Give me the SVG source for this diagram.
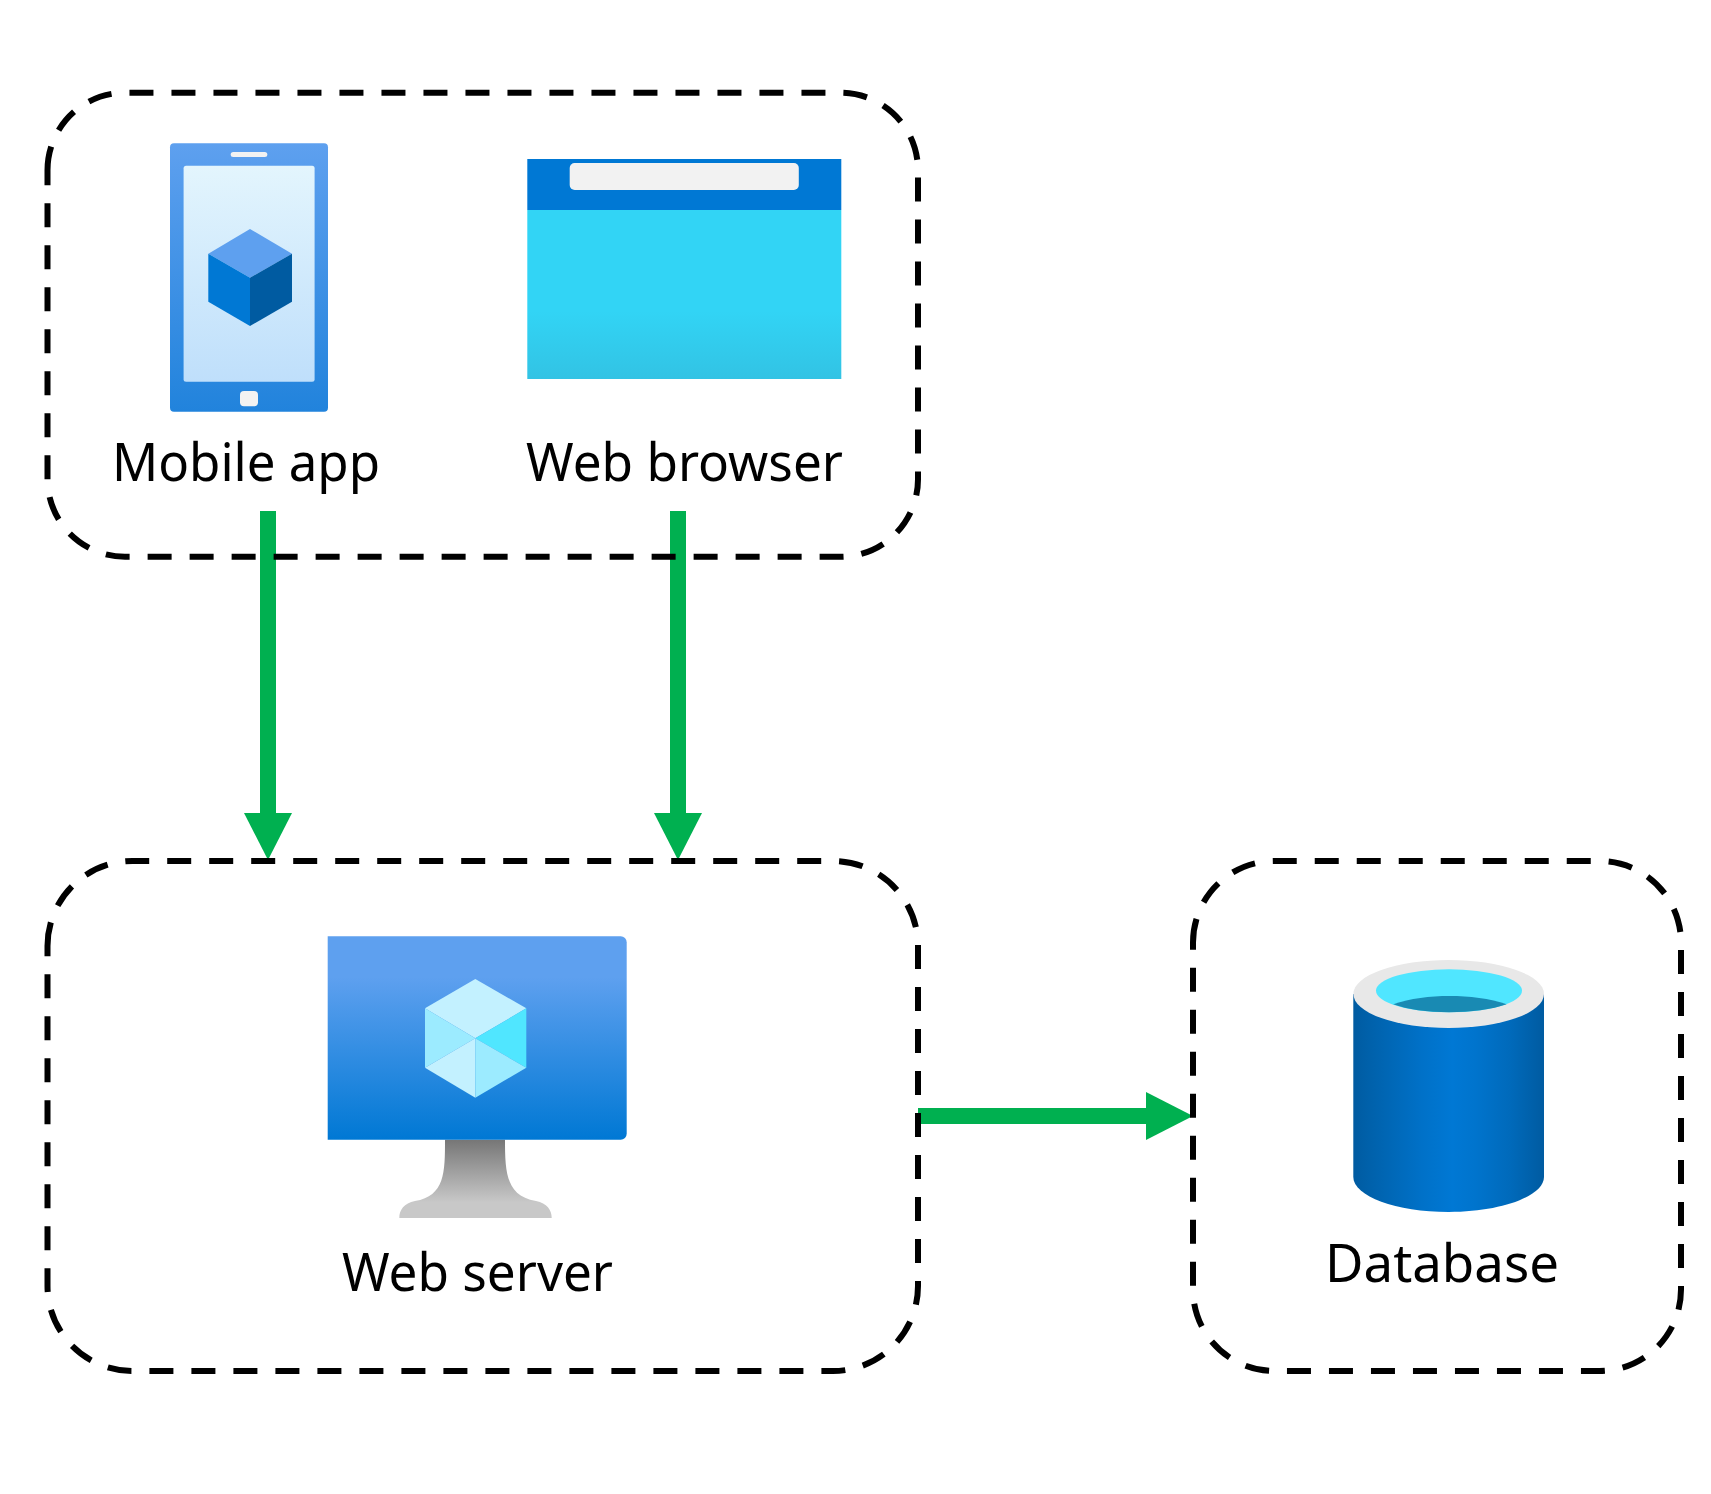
<svg xmlns="http://www.w3.org/2000/svg" width="1711" height="1494" viewBox="0 0 1711 1494">
<style>
.box{fill:none;stroke:#000;stroke-width:6;stroke-dasharray:24 18}
.lbl{font-family:"Noto Sans","Open Sans",sans-serif;font-size:52px;fill:#000}
.conn{stroke:#00B050;stroke-width:16;fill:none}
.head{fill:#00B050}
</style>
<defs>
<linearGradient id="gPhone" x1="0" y1="0" x2="0" y2="1"><stop offset="0" stop-color="#5EA0EF"/><stop offset="1" stop-color="#2183DC"/></linearGradient>
<linearGradient id="gScreen" x1="0" y1="0" x2="0" y2="1"><stop offset="0" stop-color="#E3F5FD"/><stop offset="1" stop-color="#BFDFFB"/></linearGradient>
<linearGradient id="gBody" x1="0" y1="0" x2="0" y2="1"><stop offset="0" stop-color="#32D4F5"/><stop offset="0.6" stop-color="#32D4F5"/><stop offset="1" stop-color="#32C3E4"/></linearGradient>
<linearGradient id="gMon" x1="0" y1="0" x2="0" y2="1"><stop offset="0" stop-color="#5EA0EF"/><stop offset="0.2" stop-color="#5EA0EF"/><stop offset="1" stop-color="#0078D4"/></linearGradient>
<linearGradient id="gStand" x1="0" y1="0" x2="0" y2="1"><stop offset="0" stop-color="#767676"/><stop offset="0.8" stop-color="#C8C8C8"/><stop offset="1" stop-color="#C8C8C8"/></linearGradient>
<linearGradient id="gCyl" x1="0" y1="0" x2="1" y2="0"><stop offset="0" stop-color="#005BA1"/><stop offset="0.07" stop-color="#0060A9"/><stop offset="0.36" stop-color="#0071C8"/><stop offset="0.52" stop-color="#0078D4"/><stop offset="0.64" stop-color="#0074CD"/><stop offset="0.82" stop-color="#006ABB"/><stop offset="1" stop-color="#005BA1"/></linearGradient>
</defs>
<rect width="1711" height="1494" fill="#fff"/>
<g id="connectors">
<path class="conn" d="M268 511V813"/><polygon class="head" points="244,813 292,813 268,860"/>
<path class="conn" d="M678 511V813"/><polygon class="head" points="654,813 702,813 678,860"/>
<path class="conn" d="M918 1116H1146"/><polygon class="head" points="1146,1092 1146,1140 1193,1116"/>
</g>
<g id="client-group">
<path class="box" d="M47.500 170.200A77.500 77.500 0 0 1 125 92.700H840.500A77.500 77.500 0 0 1 918 170.200V479.200A77.500 77.500 0 0 1 840.500 556.700H125A77.500 77.500 0 0 1 47.500 479.200Z"/>
</g>
<g id="mobile-app">
<rect x="170" y="143.300" width="158" height="268.400" rx="4" fill="url(#gPhone)"/>
<rect x="183.600" y="165.700" width="131" height="216" rx="2.500" fill="url(#gScreen)"/>
<rect x="230.700" y="152" width="36.600" height="5" rx="2.500" fill="#F2F2F2"/>
<rect x="240" y="391" width="18" height="15.300" rx="4" fill="#F2F2F2"/>
<polygon points="250,229 292,253.700 250,277.700 208.300,253.700" fill="#5EA0EF"/>
<polygon points="208.300,253.700 250,277.700 250,326 208.300,301.700" fill="#0078D4"/>
<polygon points="292,253.700 250,277.700 250,326 292,301.700" fill="#005BA1"/>
<text class="lbl" x="112" y="481" textLength="268" lengthAdjust="spacingAndGlyphs">Mobile app</text>
</g>
<g id="web-browser">
<rect x="527.300" y="210" width="314" height="169" fill="url(#gBody)"/>
<rect x="527.300" y="159" width="314" height="51" fill="#0078D4"/>
<rect x="569.700" y="163" width="229.100" height="27" rx="5" fill="#F2F2F2"/>
<text class="lbl" x="526" y="481" textLength="317" lengthAdjust="spacingAndGlyphs">Web browser</text>
</g>
<g id="web-server">
<path class="box" d="M47.500 946A85 85 0 0 1 132.500 861H833A85 85 0 0 1 918 946V1286A85 85 0 0 1 833 1371H132.500A85 85 0 0 1 47.500 1286Z"/>
<path d="M445 1139.700H505C505 1172 506 1196 536 1201C547 1203 551.700 1210 551.700 1218H399.300C399.300 1210 404 1203 415 1201C445 1196 445 1172 445 1139.700Z" fill="url(#gStand)"/>
<path d="M327.700 936.300H620.700A6 6 0 0 1 626.700 942.300V1133.700A6 6 0 0 1 620.700 1139.700H327.700Z" fill="url(#gMon)"/>
<polygon points="475.300,979 526.300,1008.300 475.300,1038.300 425,1008.300" fill="#C3F1FF"/>
<polygon points="425,1008.300 475.300,1038.300 425,1067.700" fill="#9CEBFF"/>
<polygon points="526.300,1008.300 475.300,1038.300 526.300,1067.700" fill="#50E6FF"/>
<polygon points="475.300,1038.300 425,1067.700 475.300,1097.700" fill="#C3F1FF"/>
<polygon points="475.300,1038.300 526.300,1067.700 475.300,1097.700" fill="#9CEBFF"/>
<text class="lbl" x="342" y="1291" textLength="271" lengthAdjust="spacingAndGlyphs">Web server</text>
</g>
<g id="database">
<path class="box" d="M1193 942.400A81.400 81.400 0 0 1 1274.400 861H1599.600A81.400 81.400 0 0 1 1681 942.400V1289.600A81.400 81.400 0 0 1 1599.600 1371H1274.400A81.400 81.400 0 0 1 1193 1289.600Z"/>
<path d="M1353.300 994V1177C1353.300 1196 1396 1212 1448.700 1212S1544 1196 1544 1177V994Z" fill="url(#gCyl)"/>
<ellipse cx="1448.700" cy="994" rx="95.300" ry="34" fill="#E8E8E8"/>
<ellipse cx="1449" cy="990.800" rx="73" ry="21.500" fill="#50E6FF"/>
<path d="M1393.300 1004.300C1410 998.500 1430 996 1449.500 996S1490 998.500 1506.700 1004.300C1492 1009.500 1471 1012.300 1449 1012.300S1407 1009.500 1393.300 1004.300Z" fill="#198AB3"/>
<text class="lbl" x="1325" y="1282" textLength="234" lengthAdjust="spacingAndGlyphs">Database</text>
</g>
</svg>
